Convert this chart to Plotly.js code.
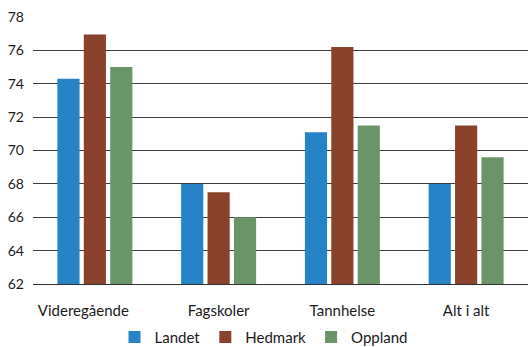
<!DOCTYPE html>
<html>
<head>
<meta charset="utf-8">
<script src="https://cdn.plot.ly/plotly-3.0.1.min.js"></script>
<style>
  html, body { margin: 0; padding: 0; background: #ffffff; }
  #chart { width: 528px; height: 347px; }
</style>
</head>
<body>
<div id="chart"></div>
<script>
// Satisfaction scores by area, three regions
const categories = ['Videregående', 'Fagskoler', 'Tannhelse', 'Alt i alt'];
const landet  = [74.3, 68.0, 71.1, 68.0];
const hedmark = [76.95, 67.5, 76.2, 71.5];
const oppland = [75.0, 66.0, 71.5, 69.6];
const seriesNames = ['Landet', 'Hedmark', 'Oppland'];
const seriesColors = ['#2683C6', '#8A432A', '#6A9567'];
const yTicks = [62, 64, 66, 68, 70, 72, 74, 76, 78];

const values = [landet, hedmark, oppland];
const traces = values.map((v, i) => ({
  type: 'bar',
  name: seriesNames[i],
  x: categories,
  y: v,
  base: 0,
  marker: { color: seriesColors[i], line: { width: 0 } },
  hoverinfo: 'skip'
}));

const fontFamily = 'Lato, "Open Sans", sans-serif';
const labelFont = { family: fontFamily, size: 15, color: '#1a1a1a' };
const numFont = { family: fontFamily, size: 14, color: '#1a1a1a' };

// the first category label sits a little left of its bar group
const labelTrail = ['\u00a0\u00a0\u00a0\u00a0\u00a0\u00a0', '', '', ''];
const xTickText = categories.map((c, i) => c + labelTrail[i]);

const layout = {
  width: 528,
  height: 347,
  margin: { l: 33, r: 0, t: 17, b: 63, pad: 0 },
  paper_bgcolor: '#ffffff',
  plot_bgcolor: '#ffffff',
  font: labelFont,
  barmode: 'group',
  bargap: 0.36,
  bargroupgap: 0.16,
  showlegend: true,
  legend: {
    orientation: 'h',
    x: 0.5, xanchor: 'center', xref: 'container',
    y: 0.028, yanchor: 'middle', yref: 'container',
    bgcolor: 'rgba(0,0,0,0)',
    font: labelFont,
    itemwidth: 30,
    traceorder: 'normal'
  },
  xaxis: {
    type: 'category',
    tickvals: categories,
    ticktext: xTickText,
    showgrid: false,
    showline: true,
    linecolor: '#333333',
    linewidth: 1,
    ticks: '',
    ticklabelstandoff: 13,
    tickfont: labelFont,
    fixedrange: true
  },
  yaxis: {
    range: [62, 78],
    tickvals: yTicks,
    ticktext: yTicks.map(String),
    showgrid: true,
    gridcolor: '#3c3c3c',
    gridwidth: 1,
    zeroline: false,
    showline: false,
    ticks: '',
    ticklabelstandoff: 8,
    tickfont: numFont,
    fixedrange: true
  }
};

Plotly.newPlot('chart', traces, layout, { staticPlot: true, displayModeBar: false });
</script>
</body>
</html>
